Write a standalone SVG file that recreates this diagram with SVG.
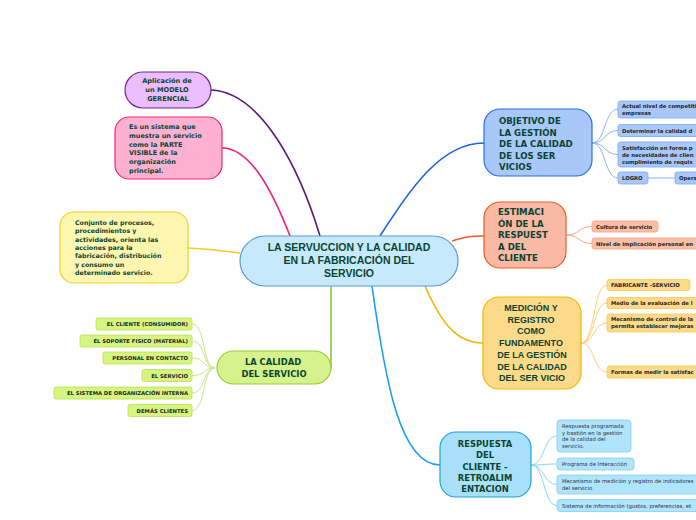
<svg xmlns="http://www.w3.org/2000/svg" width="696" height="520" viewBox="0 0 696 520">
<style>
.t{font-family:"DejaVu Sans","Verdana",sans-serif;font-weight:bold;fill:#0b4530}
.a{font-family:"Liberation Sans",Arial,sans-serif;font-weight:bold;fill:#0b4530}
.s{font-family:"DejaVu Sans","Verdana",sans-serif;font-weight:bold;fill:#1e1e28;font-size:5.3px}
.r{font-family:"DejaVu Sans","Verdana",sans-serif;fill:#2a2a44;font-size:5.3px}
.c{fill:none;stroke-width:1.6}
.sc{fill:none;stroke-width:1}
</style>
<rect width="696" height="520" fill="#ffffff"/>
<g id="connectors">
<path class="c" stroke="#5a1a78" d="M211,90 C262,92 300,170 320,236"/>
<path class="c" stroke="#f0207a" d="M222,148 C250,148 272,190 290,236"/>
<path class="c" stroke="#f0d020" d="M188,248 C210,249 225,251 240,253"/>
<path class="c" stroke="#8cc43c" d="M331,286 L331,368"/>
<path class="c" stroke="#1a64d8" d="M380,236 C410,190 440,143 484,143"/>
<path class="c" stroke="#f05a28" d="M452,241 C465,237 470,236 484,236"/>
<path class="c" stroke="#f5b400" d="M425,286 C440,320 455,343 483,343"/>
<path class="c" stroke="#1ea0e8" d="M372,286 C385,380 400,465 440,465"/>
<g stroke="#c8e68a">
<path class="sc" d="M192,324 C206,324 202,368 215,368"/>
<path class="sc" d="M192,341 C206,341 202,368 215,368"/>
<path class="sc" d="M192,358 C206,358 202,368 215,368"/>
<path class="sc" d="M192,375.5 C206,375.5 202,368 215,368"/>
<path class="sc" d="M192,393 C206,393 202,368 215,368"/>
<path class="sc" d="M192,410.5 C206,410.5 202,368 215,368"/>
</g>
<g stroke="#8ab4f0">
<path class="sc" d="M592,143 C606,143 604,109 618,109"/>
<path class="sc" d="M592,143 C606,143 604,130.5 618,130.5"/>
<path class="sc" d="M592,143 C606,143 604,154.5 618,154.5"/>
<path class="sc" d="M592,143 C606,143 604,178 618,178"/>
<path class="sc" d="M648,178 L675,178"/>
</g>
<g stroke="#f8a888">
<path class="sc" d="M566,235 C580,235 578,226.5 592,226.5"/>
<path class="sc" d="M566,235 C580,235 578,243.5 592,243.5"/>
</g>
<g stroke="#fcd070">
<path class="sc" d="M581,343 C595,343 593,285 607,285"/>
<path class="sc" d="M581,343 C595,343 593,303 607,303"/>
<path class="sc" d="M581,343 C595,343 593,323 607,323"/>
<path class="sc" d="M581,343 C595,343 593,372 607,372"/>
</g>
<g stroke="#8ad4f4">
<path class="sc" d="M531,465 C545,465 543,436 557,436"/>
<path class="sc" d="M531,465 C545,465 543,464 557,464"/>
<path class="sc" d="M531,465 C545,465 543,484.5 557,484.5"/>
<path class="sc" d="M531,465 C545,465 543,505.5 557,505.5"/>
</g>
</g>
<g id="center">
<rect x="240" y="236" width="218" height="50" rx="25" fill="#c6eafc" stroke="#5a9ad8" stroke-width="1.2"/>
<text class="a" font-size="10.5" text-anchor="middle"><tspan x="349" y="251">LA SERVUCCION Y LA CALIDAD</tspan><tspan x="349" y="264">EN LA FABRICACIÓN  DEL</tspan><tspan x="349" y="277">SERVICIO</tspan></text>
</g>
<g id="modelo">
<rect x="125" y="72" width="86" height="36" rx="18" fill="#ebbdfc" stroke="#6a2b8a" stroke-width="1.2"/>
<text class="t" font-size="6.6" text-anchor="middle"><tspan x="167" y="83">Aplicación de</tspan><tspan x="167" y="92">un MODELO</tspan><tspan x="168" y="101">GERENCIAL</tspan></text>
</g>
<g id="sistema">
<rect x="115" y="117" width="107" height="62" rx="14" fill="#fdb0d0" stroke="#f0287a" stroke-width="1.2"/>
<text class="t" font-size="6.5"><tspan x="129" y="129">Es un sistema que</tspan><tspan x="129" y="138">muestra un servicio</tspan><tspan x="129" y="147">como la PARTE</tspan><tspan x="129" y="155">VISIBLE de la</tspan><tspan x="129" y="164">organización</tspan><tspan x="129" y="173">principal.</tspan></text>
</g>
<g id="conjunto">
<rect x="60" y="212" width="128" height="71" rx="14" fill="#fdf6b0" stroke="#f0d020" stroke-width="1.2"/>
<text class="t" font-size="6.3"><tspan x="75" y="225">Conjunto de procesos,</tspan><tspan x="75" y="233.3">procedimientos y</tspan><tspan x="75" y="241.6">actividades, orienta las</tspan><tspan x="75" y="249.9">acciones para la</tspan><tspan x="75" y="258.2">fabricación, distribución</tspan><tspan x="75" y="266.5">y consumo un</tspan><tspan x="75" y="274.8">determinado servicio.</tspan></text>
</g>
<g id="calidad">
<rect x="217" y="351" width="114" height="33" rx="16.5" fill="#d6f28c" stroke="#9acd32" stroke-width="1.2"/>
<text class="t" font-size="8.4" text-anchor="middle"><tspan x="273" y="365">LA CALIDAD</tspan><tspan x="274" y="376.5">DEL SERVICIO</tspan></text>
</g>
<g id="calidad-items" fill="#d6f580" stroke="#b8e050" stroke-width="0.8">
<g id="c1"><rect x="96" y="318" width="96" height="12" rx="2"/><text class="s" x="188" y="326.2" text-anchor="end" stroke="none">EL CLIENTE (CONSUMIDOR)</text></g>
<g id="c2"><rect x="80" y="335" width="112" height="12" rx="2"/><text class="s" x="188" y="343.2" text-anchor="end" stroke="none">EL SOPORTE FISICO (MATERIAL)</text></g>
<g id="c3"><rect x="103" y="352" width="89" height="12" rx="2"/><text class="s" x="188" y="360.2" text-anchor="end" stroke="none">PERSONAL EN CONTACTO</text></g>
<g id="c4"><rect x="142" y="369.5" width="50" height="12" rx="2"/><text class="s" x="188" y="377.7" text-anchor="end" stroke="none">EL SERVICIO</text></g>
<g id="c5"><rect x="54" y="387" width="138" height="12" rx="2"/><text class="s" x="188" y="395.2" text-anchor="end" stroke="none">EL SISTEMA DE ORGANIZACIÓN INTERNA</text></g>
<g id="c6"><rect x="128" y="404.5" width="64" height="12" rx="2"/><text class="s" x="188" y="412.7" text-anchor="end" stroke="none">DEMÁS CLIENTES</text></g>
</g>
<g id="objetivo">
<rect x="484" y="109" width="108" height="67" rx="16" fill="#a8c8fa" stroke="#2a6ee0" stroke-width="1.2"/>
<text class="t" font-size="8.6"><tspan x="499" y="124">OBJETIVO DE</tspan><tspan x="499" y="135.5">LA GESTIÓN</tspan><tspan x="499" y="147">DE LA CALIDAD</tspan><tspan x="499" y="158.5">DE LOS SER</tspan><tspan x="499" y="170">VICIOS</tspan></text>
</g>
<g id="objetivo-items" fill="#a8c8fa" stroke="#78a8f0" stroke-width="0.8">
<g id="o1"><rect x="618" y="101" width="90" height="17" rx="2.5"/><text class="s" stroke="none"><tspan x="622" y="108">Actual nivel de competiti</tspan><tspan x="622" y="115">empresas</tspan></text></g>
<g id="o2"><rect x="618" y="124.5" width="90" height="12" rx="2.5"/><text class="s" x="622" y="132.5" stroke="none">Determinar la calidad  d</text></g>
<g id="o3"><rect x="618" y="142" width="90" height="25" rx="2.5"/><text class="s" stroke="none"><tspan x="622" y="149.5">Satisfacción en forma p</tspan><tspan x="622" y="156.5">de necesidades de clien</tspan><tspan x="622" y="163.5">cumplimiento de requis</tspan></text></g>
<g id="o4"><rect x="618" y="172" width="30" height="12" rx="2.5"/><text class="s" x="622" y="180.2" stroke="none">LOGRO</text></g>
<g id="o5"><rect x="675" y="172" width="40" height="12" rx="2.5"/><text class="s" x="679" y="180.2" stroke="none">Opera</text></g>
</g>
<g id="estimacion">
<rect x="484" y="202" width="82" height="66" rx="16" fill="#f9b9a5" stroke="#f05a28" stroke-width="1.2"/>
<text class="t" font-size="8.6"><tspan x="498" y="215">ESTIMACI</tspan><tspan x="498" y="226.5">ÓN DE LA</tspan><tspan x="498" y="238">RESPUEST</tspan><tspan x="498" y="249.5">A DEL</tspan><tspan x="498" y="261">CLIENTE</tspan></text>
</g>
<g id="estimacion-items" fill="#f9c0a8" stroke="#f8a080" stroke-width="0.8">
<g id="e1"><rect x="592" y="221" width="66" height="11" rx="2.5"/><text class="s" x="596" y="228.6" stroke="none">Cultura de servicio</text></g>
<g id="e2"><rect x="592" y="238" width="120" height="11" rx="2.5"/><text class="s" x="596" y="245.6" stroke="none">Nivel de implicación personal en</text></g>
</g>
<g id="medicion">
<rect x="483" y="297" width="98" height="92" rx="16" fill="#fdd98a" stroke="#f5b800" stroke-width="1.2"/>
<text class="a" font-size="9" text-anchor="middle"><tspan x="531" y="311">MEDICIÓN Y</tspan><tspan x="531" y="322.5">REGISTRO</tspan><tspan x="531" y="334">COMO</tspan><tspan x="531" y="345.5">FUNDAMENTO</tspan><tspan x="532" y="358">DE LA GESTIÓN</tspan><tspan x="532" y="369.5">DE LA CALIDAD</tspan><tspan x="532" y="381">DEL SER VICIO</tspan></text>
</g>
<g id="medicion-items" fill="#fdd98a" stroke="#fcc850" stroke-width="0.8">
<g id="m1"><rect x="607" y="279.5" width="83" height="11" rx="2.5"/><text class="s" x="611" y="287.1" stroke="none">FABRICANTE -SERVICIO</text></g>
<g id="m2"><rect x="607" y="297.5" width="100" height="11" rx="2.5"/><text class="s" x="611" y="305.1" stroke="none">Medio de la evaluación de l</text></g>
<g id="m3"><rect x="607" y="314" width="100" height="18" rx="2.5"/><text class="s" stroke="none"><tspan x="611" y="321">Mecanismo de control de la</tspan><tspan x="611" y="328">permita establecer mejoras</tspan></text></g>
<g id="m4"><rect x="607" y="366" width="100" height="12" rx="2.5"/><text class="s" x="611" y="374.1" stroke="none">Formas de medir la satisfac</text></g>
</g>
<g id="respuesta">
<rect x="440" y="432" width="91" height="65" rx="16" fill="#a8e0fa" stroke="#20a0e0" stroke-width="1.2"/>
<text class="t" font-size="8.4" text-anchor="middle"><tspan x="485" y="447">RESPUESTA</tspan><tspan x="485" y="458">DEL</tspan><tspan x="485" y="469.5">CLIENTE -</tspan><tspan x="485" y="480.5">RETROALIM</tspan><tspan x="485" y="491.5">ENTACION</tspan></text>
</g>
<g id="respuesta-items" fill="#b0e4fb" stroke="#80d0f5" stroke-width="0.8">
<g id="r1"><rect x="557" y="420" width="74" height="32" rx="3"/><text class="r" stroke="none"><tspan x="562" y="428">Respuesta programada</tspan><tspan x="562" y="434.5">y bastión en la gestión</tspan><tspan x="562" y="441">de la calidad del</tspan><tspan x="562" y="447.5">servicio.</tspan></text></g>
<g id="r2"><rect x="557" y="458" width="77" height="12" rx="3"/><text class="r" x="562" y="466" stroke="none">Programa de Interacción</text></g>
<g id="r3"><rect x="557" y="475" width="150" height="19" rx="3"/><text class="r" stroke="none"><tspan x="562" y="482.5">Mecanismo de medición y registro de indicadores</tspan><tspan x="562" y="489.5">del servicio</tspan></text></g>
<g id="r4"><rect x="557" y="499.5" width="150" height="12" rx="3"/><text class="r" x="562" y="507.5" stroke="none">Sistema de información (gustos, preferencias, et</text></g>
</g>
</svg>
